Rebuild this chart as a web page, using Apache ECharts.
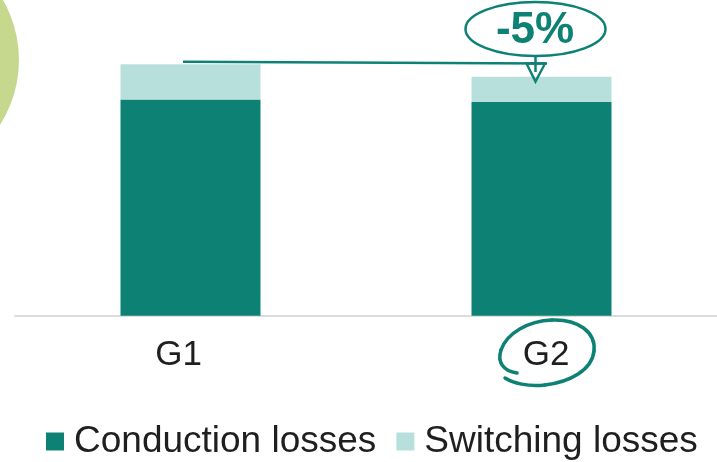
<!DOCTYPE html>
<html>
<head>
<meta charset="utf-8">
<script src="https://cdn.jsdelivr.net/npm/echarts@6/dist/echarts.min.js"></script>
<style>
  html, body { margin: 0; padding: 0; background: #ffffff; }
  #chart { width: 717px; height: 462px; }
</style>
</head>
<body>
<div id="chart"></div>
<script>
// Loss breakdown per device (relative units, G1 total = 100)
const categories = ['G1', 'G2'];
const conductionLosses = [86, 85];
const switchingLosses = [14, 10];
const seriesNames = ['Conduction losses', 'Switching losses'];
const changeLabel = '-5%';

const TEAL = '#0d8274';
const LIGHT_TEAL = '#b7dfdb';
const FONT = '"Liberation Sans", Arial, Helvetica, sans-serif';

// hand-drawn loop around the G2 label, as cubic segments
const loopSegments = [
  [517, 373, 503, 371, 497, 362, 501, 350],
  [501, 350, 507, 333, 528, 321, 552, 320],
  [552, 320, 578, 319, 596, 332, 594, 351],
  [594, 351, 592, 370, 570, 382, 545, 385],
  [545, 385, 528, 387, 513, 383, 505, 378]
];

const loopGraphics = loopSegments.map(function (s) {
  return {
    type: 'bezierCurve',
    shape: { x1: s[0], y1: s[1], cpx1: s[2], cpy1: s[3], cpx2: s[4], cpy2: s[5], x2: s[6], y2: s[7] },
    style: { stroke: TEAL, fill: null, lineWidth: 3.5, lineCap: 'round' },
    z: 10
  };
});

const chart = echarts.init(document.getElementById('chart'), null, { renderer: 'canvas' });

chart.setOption({
  animation: false,
  backgroundColor: '#ffffff',
  grid: { left: 15, right: -2, top: 13.9, bottom: 146.3, containLabel: false },
  legend: {
    data: seriesNames,
    left: 46,
    top: 423,
    padding: 0,
    icon: 'rect',
    itemWidth: 18,
    itemHeight: 18,
    itemGap: 20,
    textStyle: { fontFamily: FONT, fontSize: 37, color: '#1f1f1f', padding: [0, 0, 0, 5] }
  },
  xAxis: {
    type: 'category',
    data: categories,
    axisTick: { show: false },
    axisLine: { lineStyle: { color: '#dcdcdc', width: 2 } },
    axisLabel: {
      margin: 22,
      fontFamily: FONT,
      fontSize: 35,
      color: '#1f1f1f',
      formatter: function (v) { return '{' + v.toLowerCase() + '|' + v + '}'; },
      rich: {
        g1: { fontFamily: FONT, fontSize: 35, color: '#1f1f1f', padding: [0, 24, 0, 0] },
        g2: { fontFamily: FONT, fontSize: 35, color: '#1f1f1f', padding: [0, 0, 0, 9] }
      }
    }
  },
  yAxis: {
    type: 'value',
    min: 0,
    max: 120,
    show: false,
    splitLine: { show: false }
  },
  series: [
    {
      name: seriesNames[0],
      type: 'bar',
      stack: 'losses',
      barWidth: 140,
      itemStyle: { color: TEAL },
      data: conductionLosses
    },
    {
      name: seriesNames[1],
      type: 'bar',
      stack: 'losses',
      barWidth: 140,
      itemStyle: { color: LIGHT_TEAL },
      data: switchingLosses
    }
  ],
  graphic: [
    // decorative disc at the left edge
    {
      type: 'circle',
      shape: { cx: -101.5, cy: 60, r: 120.5 },
      style: { fill: '#c5d88e' },
      z: 1
    },
    // reference line from the G1 total towards G2
    {
      type: 'line',
      shape: { x1: 183, y1: 61.7, x2: 547, y2: 63.5 },
      style: { stroke: TEAL, lineWidth: 2.5 },
      z: 10
    },
    // stem from the callout down into the arrow head
    {
      type: 'line',
      shape: { x1: 535.5, y1: 55, x2: 535.5, y2: 72 },
      style: { stroke: TEAL, lineWidth: 2.5 },
      z: 10
    },
    // open arrow head
    {
      type: 'polygon',
      shape: { points: [[526.5, 63.5], [545, 63.5], [535.5, 81.5]] },
      style: { stroke: TEAL, fill: null, lineWidth: 2.4 },
      z: 10
    },
    // callout ellipse
    {
      type: 'ellipse',
      shape: { cx: 535.5, cy: 29, rx: 70, ry: 27 },
      style: { stroke: TEAL, fill: '#ffffff', lineWidth: 2.5 },
      z: 10
    },
    {
      type: 'text',
      x: 535,
      y: 31,
      style: {
        text: changeLabel,
        font: 'bold 44px ' + FONT,
        fill: TEAL,
        align: 'center',
        verticalAlign: 'middle'
      },
      z: 11
    }
  ].concat(loopGraphics)
});
</script>
</body>
</html>
